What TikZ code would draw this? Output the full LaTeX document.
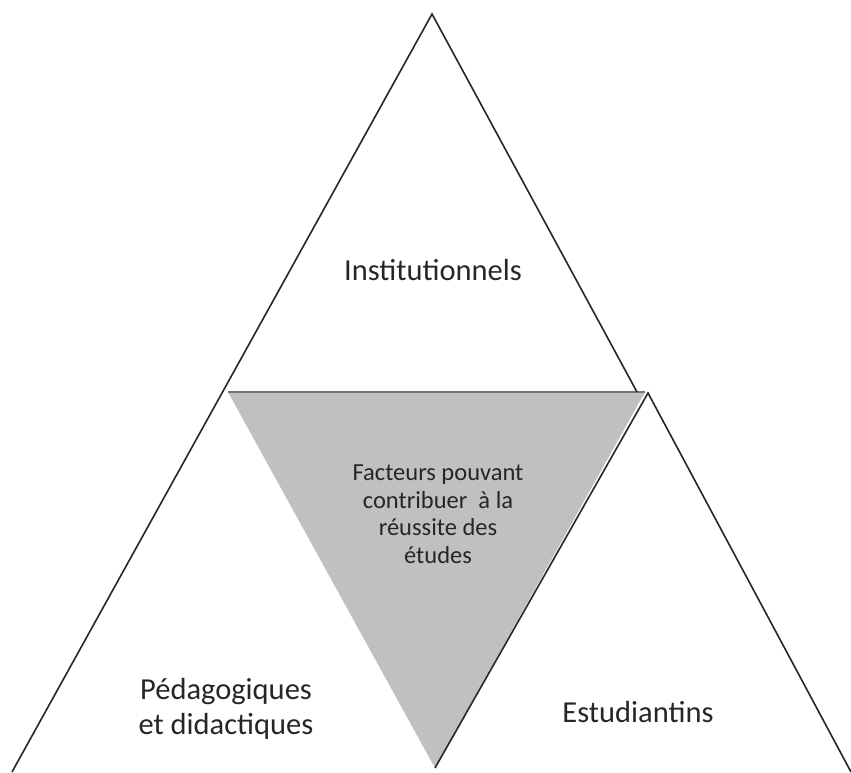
\documentclass[tikz,border=0pt]{standalone}
\usepackage{fontspec}
\setmainfont{Carlito}
\definecolor{midgray}{RGB}{192,192,192}
\begin{document}
\begin{tikzpicture}[x=1pt,y=-1pt,
  edge/.style={draw=black!85,line width=1.6pt},
  lbl/.style={align=center,text=black!85,font=\fontsize{30.5}{35}\selectfont},
  small/.style={align=center,text=black!85,font=\fontsize{24.5}{27.5}\selectfont}]
\useasboundingbox (0,0) rectangle (851,772);
\coordinate (A) at (432,14);
\coordinate (L) at (228,392);
\coordinate (R) at (637,392);
\coordinate (RA) at (648,393);
\coordinate (B) at (435,768);
\coordinate (BL) at (12,772);
\coordinate (BR) at (851,772);
\fill[midgray] (L) -- (645,392) -- (B) -- cycle;
\draw[draw=black!55,line width=1.2pt] (L) -- (645,392);
\draw[edge] (BL) -- (A) -- (R);
\draw[edge] (B) -- (RA) -- (BR);
\node[lbl] (inst) at (433,270) {Institutionnels};
\node[small] (fac) at (438,514) {Facteurs pouvant\\contribuer\ \ à la\\réussite des\\études};
\node[lbl] (ped) at (226,709) {Pédagogiques\\et didactiques};
\node[lbl] (est) at (638,712) {Estudiantins};
\end{tikzpicture}
\end{document}
